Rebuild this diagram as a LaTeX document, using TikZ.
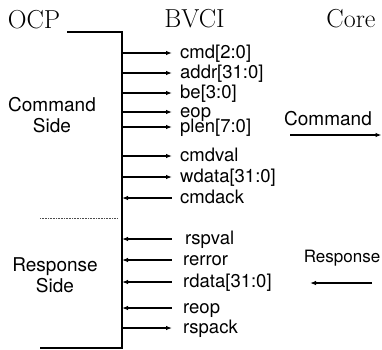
\documentclass[tikz,border=0pt]{standalone}
\usepackage{fontspec}
\setsansfont{TeX Gyre Heros}
\usetikzlibrary{arrows.meta}
\begin{document}
\begin{tikzpicture}[x=1pt,y=-1pt,
  bus/.style={line width=1.3pt},
  sig/.style={line width=1.1pt},
  sigout/.style={-{Latex[length=6pt,width=4.5pt]}},
  sigin/.style={{Latex[length=6pt,width=4.5pt]}-},
  lab/.style={font=\sffamily\fontsize{18.5}{21}\selectfont, anchor=base west, inner sep=0pt},
  rlab/.style={font=\sffamily\fontsize{19}{21}\selectfont, anchor=base, inner sep=0pt},
  hdr/.style={font=\fontsize{26}{28}\selectfont, anchor=base, inner sep=0pt},
  side/.style={font=\sffamily\fontsize{19}{21}\selectfont, align=center, inner sep=0pt},
  sep/.style={line width=0.7pt, dash pattern=on 0.8pt off 0.8pt, black!70}]
\useasboundingbox (0,0) rectangle (382,349);

% headers
\node[hdr] (ocp) at (34,28) {OCP};
\node[hdr] (bvci) at (194.5,27) {BVCI};
\node[hdr] (core) at (351,27) {Core};

% bus line
\coordinate (t0) at (67,32);
\coordinate (t1) at (122,32);
\coordinate (bt) at (122,348);
\coordinate (bl) at (40,348);
\draw[bus] (t0) -- (t1) -- (bt) -- (bl);

% separator
\coordinate (d0) at (40,218);
\coordinate (d1) at (118,218);
\draw[sep] (d0) -- (d1);

% side labels
\node[side] (cmdside) at (52,115.5) {Command\\Side};
\node[side] (rspside) at (55,275.7) {Response\\Side};

% signals
\foreach \yy/\tt/\dd/\xx [count=\i] in {
  53/{cmd[2:0]}/sigout/180,
  73/{addr[31:0]}/sigout/180,
  93/{be[3:0]}/sigout/180,
  112/{eop}/sigout/180,
  127/{plen[7:0]}/sigout/180,
  156/{cmdval}/sigout/180,
  177/{wdata[31:0]}/sigout/180,
  198/{cmdack}/sigin/180,
  239/{rspval}/sigin/185,
  260/{rerror}/sigin/183,
  282/{rdata[31:0]}/sigin/183,
  308/{reop}/sigin/183,
  328/{rspack}/sigout/183}{
  \coordinate (s\i) at (122,\yy);
  \coordinate (e\i) at (172,\yy);
  \node[lab] (l\i) at (\xx,\yy+5.5) {\tt};
  \draw[sig,\dd] (s\i) -- (e\i);
}

% core side
\node[rlab] (cmdr) at (328,125) {Command};
\coordinate (ca0) at (290,135);
\coordinate (ca1) at (381.5,135);
\draw[sig,sigout] (ca0) -- (ca1);

\node[rlab, font=\sffamily\fontsize{17}{19}\selectfont] (rspr) at (342,262) {Response};
\coordinate (ra0) at (372,283);
\coordinate (ra1) at (310,283);
\draw[sig,sigout] (ra0) -- (ra1);
\end{tikzpicture}
\end{document}
